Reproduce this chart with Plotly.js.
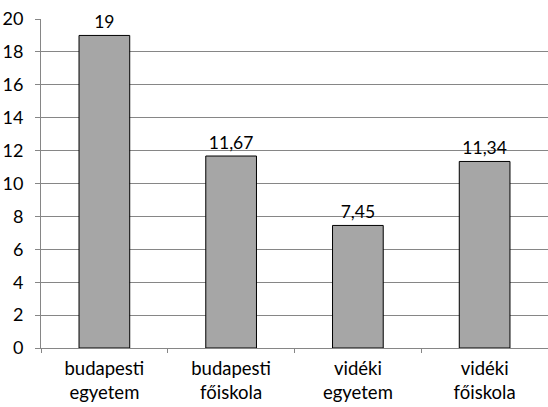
<!DOCTYPE html>
<html><head><meta charset="utf-8">
<script src="https://cdn.plot.ly/plotly-3.0.1.min.js"></script>
<style>html,body{margin:0;padding:0;background:#fff}#c{width:548px;height:407px}</style>
</head><body><div id="c"></div>
<script>
const categories = ["budapesti<br>egyetem", "budapesti<br>főiskola", "vidéki<br>egyetem", "vidéki<br>főiskola"];
const values = [19, 11.67, 7.45, 11.34];
const yTicks = [0, 2, 4, 6, 8, 10, 12, 14, 16, 18, 20];

const trace = {
  type: 'bar', x: categories, y: values,
  marker: {color: '#a6a6a6', line: {color: '#000', width: 1}},
  width: 0.4,
  texttemplate: '%{y}', textposition: 'outside', cliponaxis: false,
  textfont: {family: 'Lato, sans-serif', size: 17.5, color: '#000'},
  hoverinfo: 'none'
};
const layout = {
  width: 548, height: 407,
  margin: {l: 41, r: 0, t: 19, b: 59},
  separators: ',.',
  paper_bgcolor: '#fff', plot_bgcolor: '#fff',
  showlegend: false,
  font: {family: 'Lato, sans-serif', color: '#000'},
  xaxis: {
    type: 'category', tickson: 'boundaries', ticks: 'outside', ticklen: 4,
    tickcolor: '#868686', showline: true, linecolor: '#868686', linewidth: 1,
    showgrid: false, tickfont: {size: 18.5, color: '#000'}, ticklabelstandoff: 4
  },
  yaxis: {
    range: [0, 20], tickvals: yTicks, ticktext: yTicks.map(String),
    ticks: 'outside', ticklen: 5, tickcolor: '#868686',
    showline: true, linecolor: '#868686', linewidth: 1,
    showgrid: true, gridcolor: '#868686', gridwidth: 1, zeroline: false,
    tickfont: {size: 18, color: '#000'}, ticklabelstandoff: 8
  }
};
Plotly.newPlot('c', [trace], layout, {staticPlot: true});
</script></body></html>
